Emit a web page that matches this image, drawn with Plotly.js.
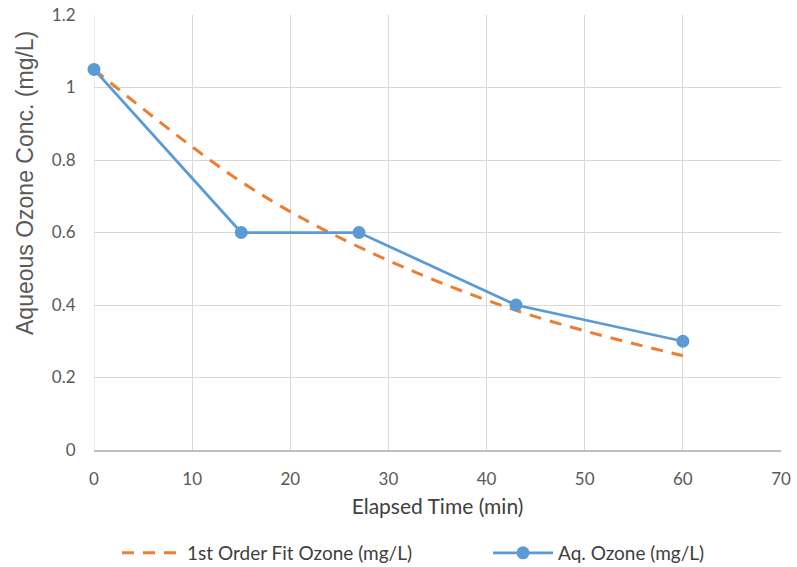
<!DOCTYPE html>
<html><head><meta charset="utf-8">
<script src="https://cdn.plot.ly/plotly-3.0.1.min.js"></script>
<style>html,body{margin:0;padding:0;background:#fff}#c{width:797px;height:567px}</style>
</head><body><div id="c"></div>
<script>
const timeMin = [0, 15, 27, 43, 60];
const aqOzone = [1.05, 0.60, 0.60, 0.40, 0.30];
const fitTime = [0, 15, 27, 43, 60];
const fitOzone = [1.05, 0.74, 0.56, 0.385, 0.26];
const xTicks = [0, 10, 20, 30, 40, 50, 60, 70];
const yTicks = [0, 0.2, 0.4, 0.6, 0.8, 1, 1.2];
const yTickText = ['0', '0.2', '0.4', '0.6', '0.8', '1', '1.2'];
const xTitle = 'Elapsed Time (min)';
const yTitle = 'Aqueous Ozone Conc. (mg/L)';

const tickFont = {family: 'Lato, "Open Sans", sans-serif', size: 17, color: '#595959'};
const legFont = {family: 'Lato, "Open Sans", sans-serif', size: 19, color: '#404040'};
const traces = [
  {x: fitTime, y: fitOzone, name: '1st Order Fit Ozone (mg/L)', mode: 'lines', legend: 'legend',
   line: {color: '#ED7D31', width: 3, dash: '12px,9px', shape: 'spline'}, cliponaxis: false},
  {x: timeMin, y: aqOzone, name: 'Aq. Ozone (mg/L)', mode: 'lines+markers', legend: 'legend2',
   line: {color: '#5B9BD5', width: 2.75}, marker: {color: '#5B9BD5', size: 13}, cliponaxis: false}
];
const layout = {
  width: 797, height: 567,
  margin: {l: 94, r: 16, t: 15, b: 117, autoexpand: false},
  paper_bgcolor: '#fff', plot_bgcolor: '#fff',
  showlegend: true,
  legend: {orientation: 'h', xref: 'container', yref: 'container', x: 117/797, xanchor: 'left',
    y: 1 - 553/567, yanchor: 'middle', itemwidth: 60, font: legFont},
  legend2: {orientation: 'h', xref: 'container', yref: 'container', x: 488/797, xanchor: 'left',
    y: 1 - 553/567, yanchor: 'middle', itemwidth: 60, font: legFont},
  xaxis: {range: [0, 70], tickvals: xTicks, ticktext: xTicks.map(String),
    showgrid: true, gridcolor: '#d9d9d9', gridwidth: 1,
    showline: true, linecolor: '#bfbfbf', linewidth: 1.5, zeroline: false,
    ticks: 'outside', ticklen: 13, tickcolor: 'rgba(0,0,0,0)', tickfont: tickFont, automargin: false,
    title: {text: xTitle, font: {family: 'Lato, "Open Sans", sans-serif', size: 21, color: '#404040'}, standoff: 11}},
  yaxis: {range: [0, 1.2], tickvals: yTicks, ticktext: yTickText,
    showgrid: true, gridcolor: '#d9d9d9', gridwidth: 1,
    showline: false, zeroline: false, ticks: 'outside', ticklen: 14, tickcolor: 'rgba(0,0,0,0)', tickfont: tickFont, automargin: false},
  annotations: [{text: yTitle, textangle: -90, xref: 'paper', yref: 'paper',
    x: (25 - 94) / 687, y: (450 - 183) / 435, xanchor: 'center', yanchor: 'middle', showarrow: false,
    font: {family: '"Liberation Sans", Arial, sans-serif', size: 23, color: '#595959'}}],
  shapes: [{type: 'line', xref: 'x', yref: 'paper', x0: 0, x1: 0, y0: 0, y1: 1, line: {color: '#d9d9d9', width: 1}, layer: 'below'}]
};
Plotly.newPlot('c', traces, layout, {displayModeBar: false, staticPlot: true});
</script></body></html>
